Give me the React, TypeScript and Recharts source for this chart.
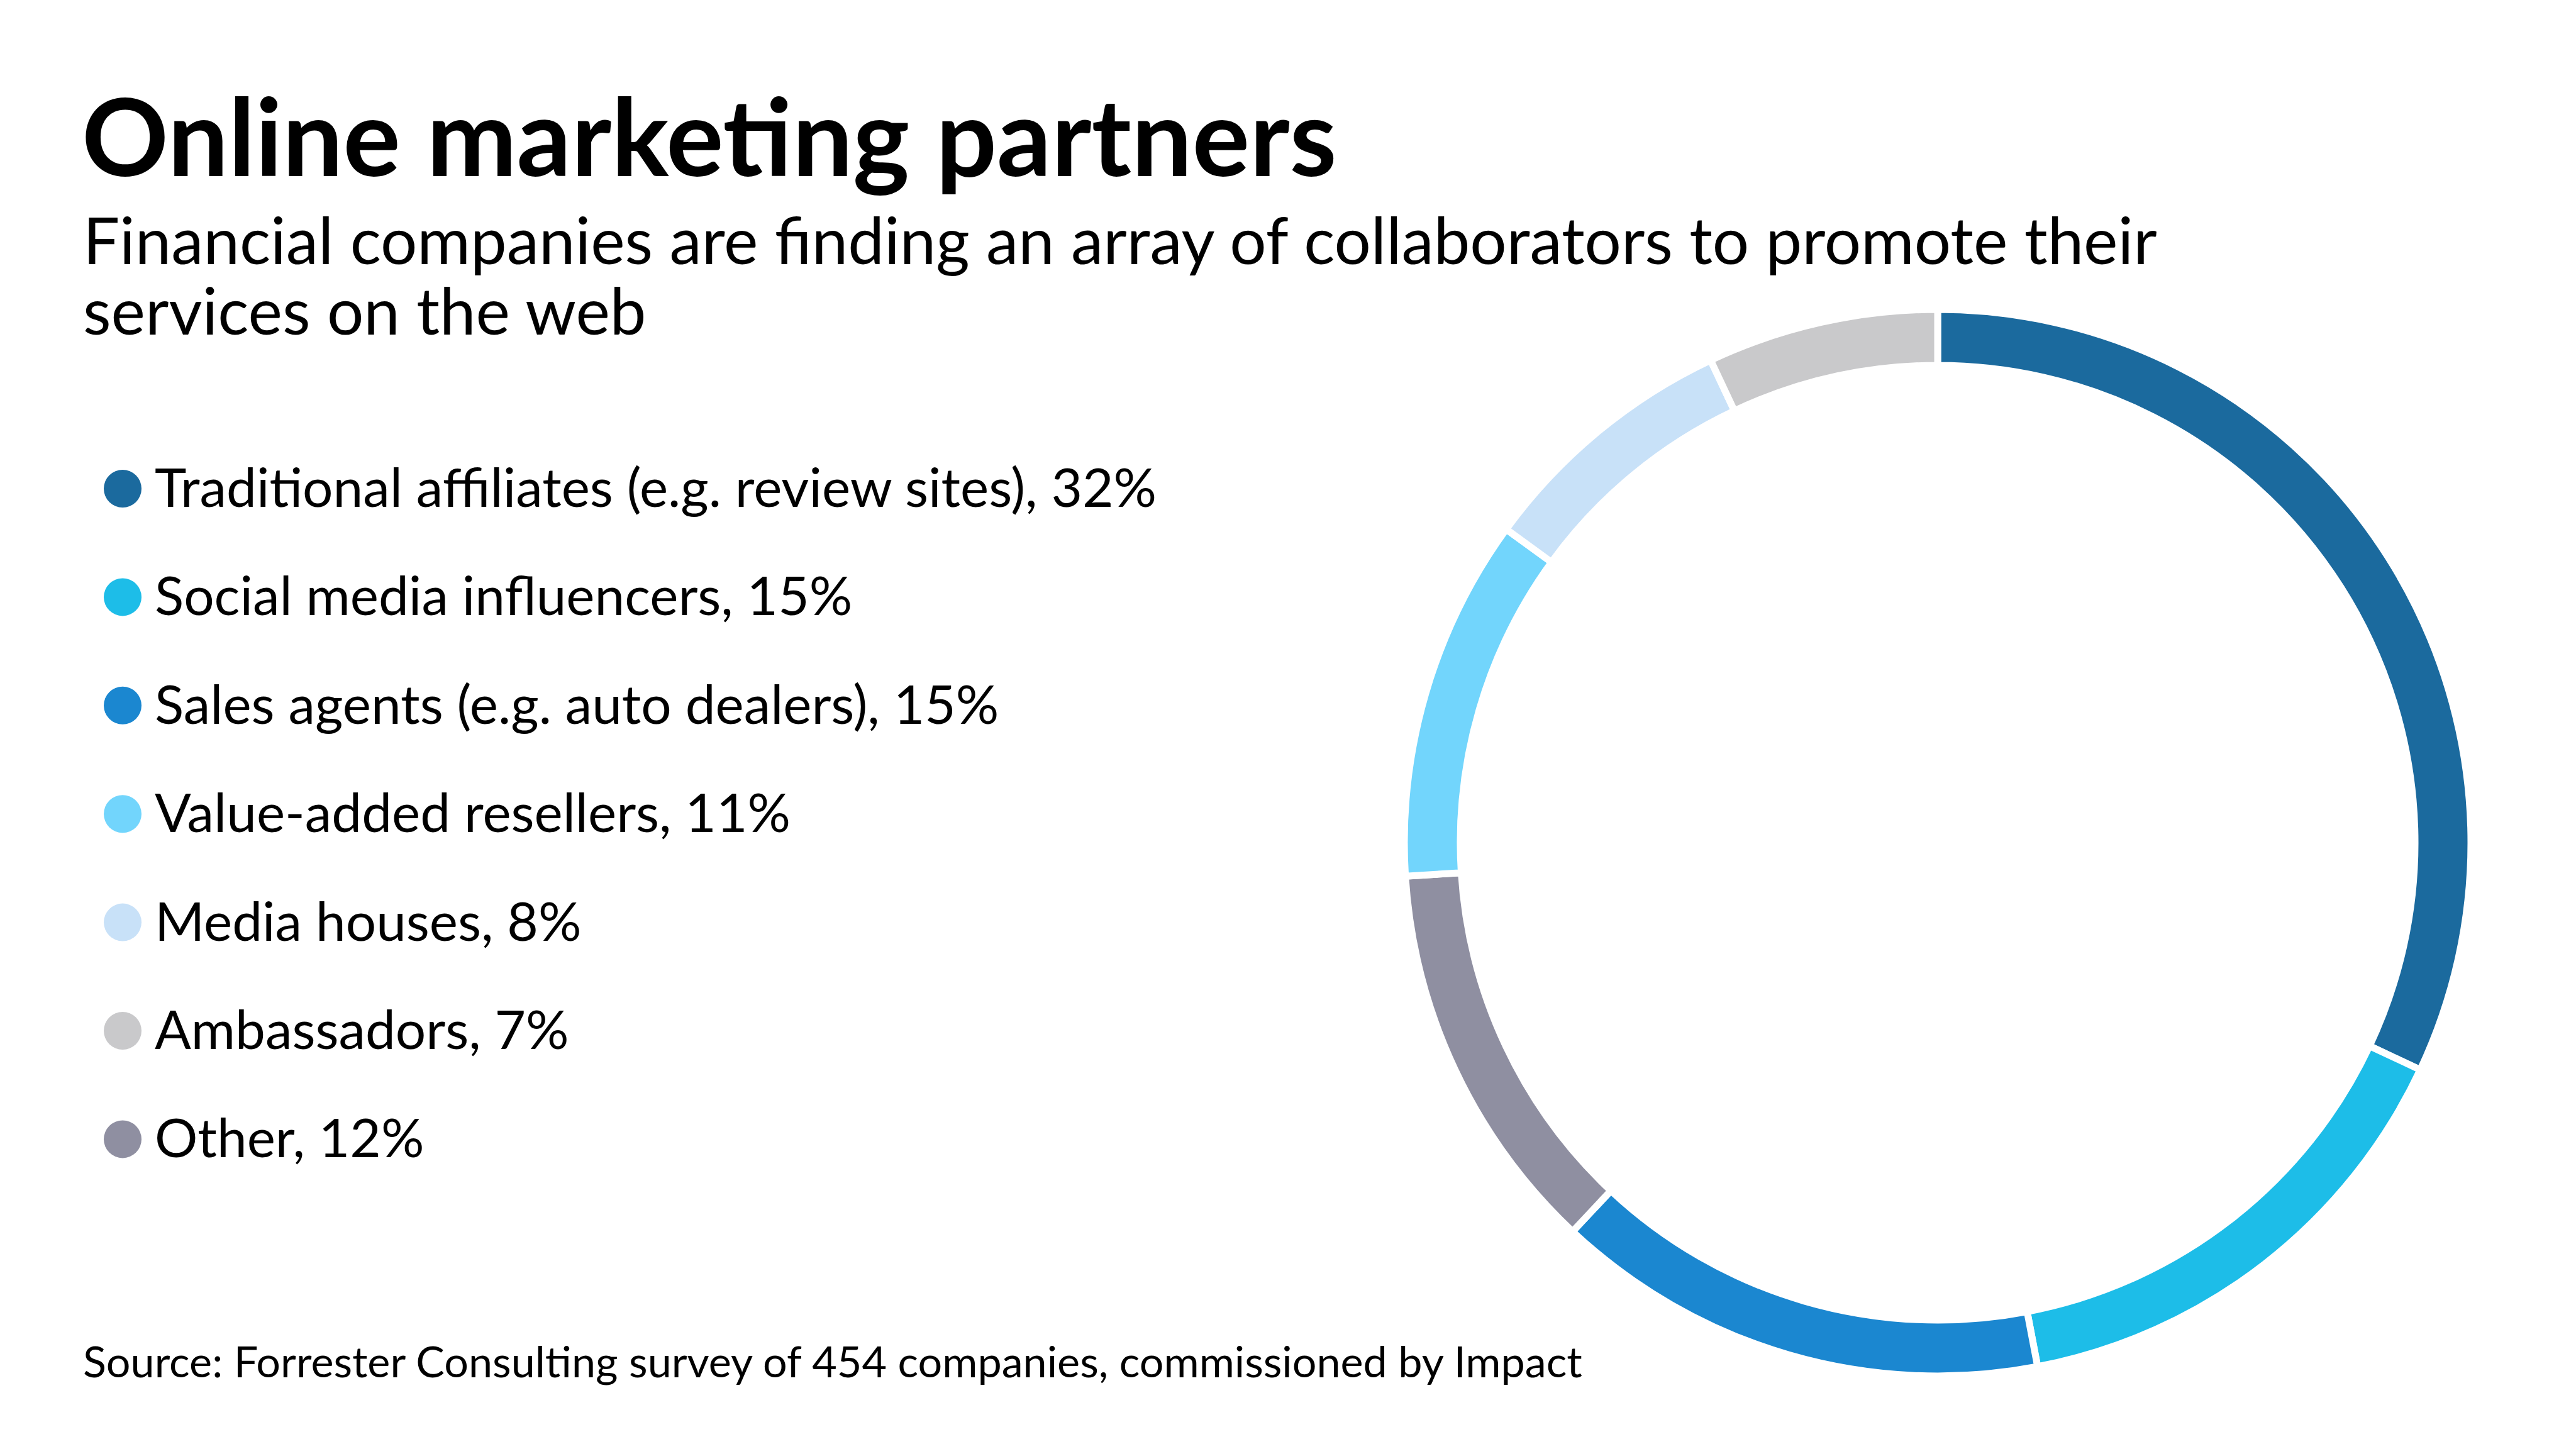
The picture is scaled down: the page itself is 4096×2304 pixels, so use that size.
import React from 'react';
import { PieChart, Pie, Cell } from 'recharts';

// slices, clockwise from 12 o'clock
const sliceNames = [
  'Traditional affiliates (e.g. review sites)',
  'Social media influencers',
  'Sales agents (e.g. auto dealers)',
  'Other',
  'Value-added resellers',
  'Media houses',
  'Ambassadors',
];
const sliceValues = [32, 15, 15, 12, 11, 8, 7];
const sliceColors = ['#1b6a9e', '#1dbde8', '#1b87d0', '#8f8fa1', '#72d5fc', '#c8e1f8', '#c9c9cb'];

// legend order as printed
const legendOrder = [
  'Traditional affiliates (e.g. review sites)',
  'Social media influencers',
  'Sales agents (e.g. auto dealers)',
  'Value-added resellers',
  'Media houses',
  'Ambassadors',
  'Other',
];

const title = 'Online marketing partners';
const subtitleLines = [
  'Financial companies are finding an array of collaborators to promote their',
  'services on the web',
];
const source = 'Source: Forrester Consulting survey of 454 companies, commissioned by Impact';

const W = 4096;
const H = 2304;
const FONT = 'Lato, "Open Sans", sans-serif';

const data = sliceNames.map((name, i) => ({ name, value: sliceValues[i] }));

const colorFor = (name: string) => sliceColors[sliceNames.indexOf(name)];
const valueFor = (name: string) => sliceValues[sliceNames.indexOf(name)];

export default function App() {
  return (
    <div style={{ position: 'absolute', left: 0, top: 0, width: W, height: H, background: '#fff', fontFamily: FONT }}>
      <PieChart width={W} height={H} margin={{ top: 0, right: 0, bottom: 0, left: 0 }}>
        <Pie
          data={data}
          dataKey="value"
          nameKey="name"
          cx={3081}
          cy={1340}
          outerRadius={848}
          innerRadius={759}
          startAngle={90}
          endAngle={-270}
          stroke="#ffffff"
          strokeWidth={11}
          isAnimationActive={false}
        >
          {data.map((entry, i) => (
            <Cell key={`cell-${i}`} fill={sliceColors[i]} />
          ))}
        </Pie>
      </PieChart>

      <svg
        width={W}
        height={H}
        style={{ position: 'absolute', left: 0, top: 0, pointerEvents: 'none' }}
        fontFamily={FONT}
      >
        <text x={130} y={280} fontSize={171} fontWeight={700} fill="#000">
          {title}
        </text>
        {subtitleLines.map((line, i) => (
          <text key={i} x={132} y={420 + i * 112} fontSize={103} fill="#000">
            {line}
          </text>
        ))}

        {legendOrder.map((name, i) => {
          const y = 806 + i * 172.4;
          return (
            <g key={name}>
              <circle cx={195} cy={y - 29} r={30} fill={colorFor(name)} />
              <text x={246} y={y} fontSize={85.5} fill="#000">
                {`${name}, ${valueFor(name)}%`}
              </text>
            </g>
          );
        })}

        <text x={132} y={2190} fontSize={68.3} fill="#000">
          {source}
        </text>
      </svg>
    </div>
  );
}
